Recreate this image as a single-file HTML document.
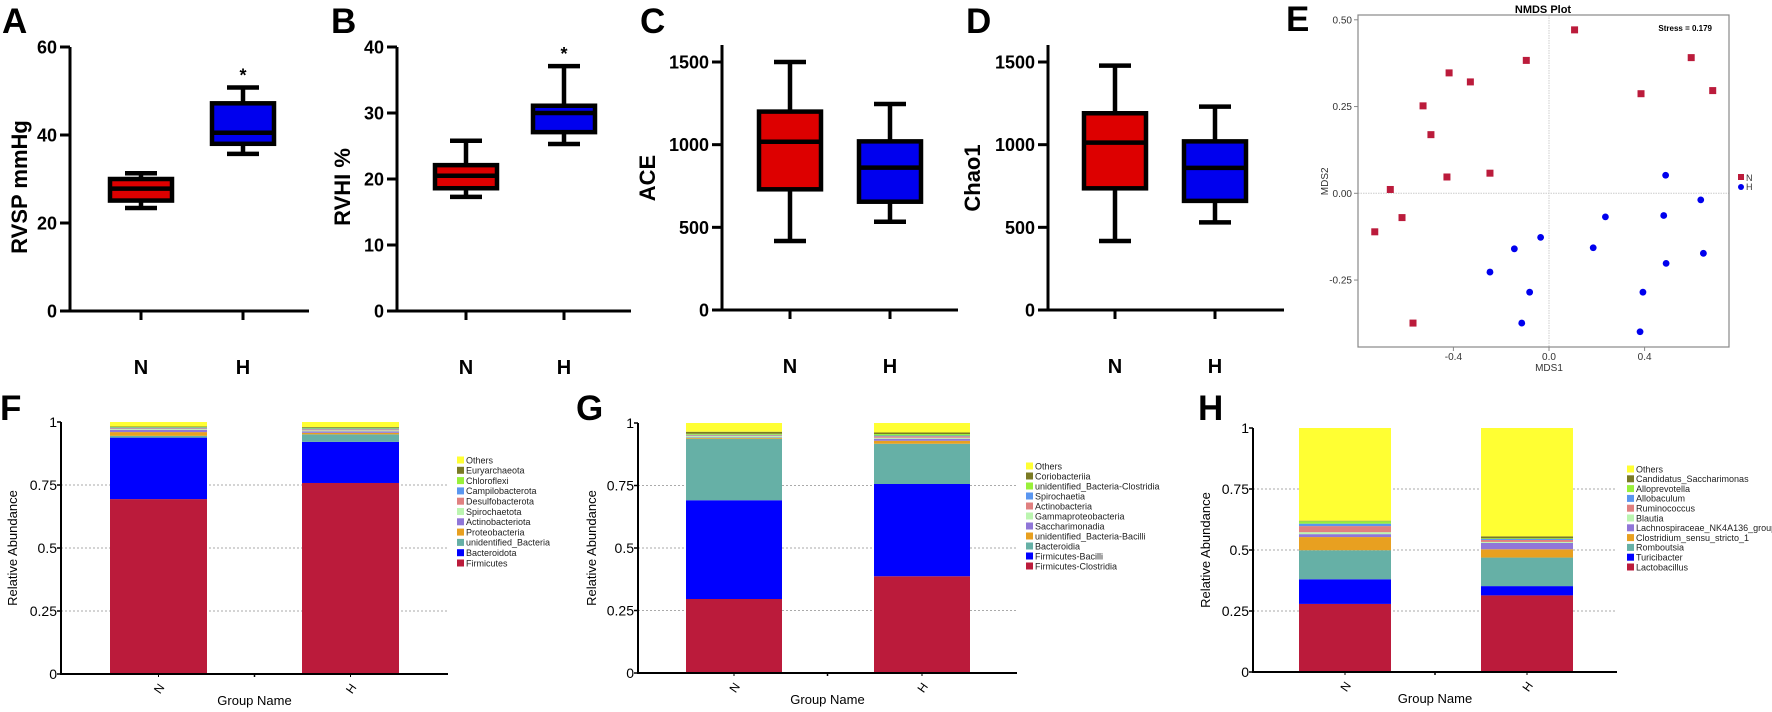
<!DOCTYPE html>
<html><head><meta charset="utf-8"><style>
html,body{margin:0;padding:0;background:#fff;width:1772px;height:712px;overflow:hidden}
svg{display:block;font-family:"Liberation Sans",Arial,sans-serif}
</style></head><body>
<svg id="fig" width="1772" height="712" viewBox="0 0 1772 712" xmlns="http://www.w3.org/2000/svg">
<g font-weight="bold" font-size="35" fill="#000">
<text x="2" y="33">A</text>
<text x="331" y="33">B</text>
<text x="640" y="33">C</text>
<text x="966" y="33">D</text>
<text x="1286" y="31">E</text>
<text x="0" y="420">F</text>
<text x="576" y="420">G</text>
<text x="1198" y="420">H</text>
</g>
</svg>
<script>
// ---------- Box plot data: [min, q1, median, q3, max] ----------
const boxGroups = ["N", "H"];
const rvspN = [23.4, 25.1, 27.8, 30.0, 31.3];
const rvspH = [35.7, 38.0, 40.5, 47.2, 50.8];
const rvhiN = [17.3, 18.6, 20.5, 22.1, 25.8];
const rvhiH = [25.3, 27.1, 30.0, 31.1, 37.1];
const aceN = [417, 730, 1018, 1200, 1500];
const aceH = [534, 655, 861, 1020, 1246];
const chaoN = [417, 736, 1012, 1190, 1478];
const chaoH = [530, 660, 860, 1020, 1230];
const ticksRVSP = [0, 20, 40, 60];
const ticksRVHI = [0, 10, 20, 30, 40];
const ticksAlpha = [0, 500, 1000, 1500];

// ---------- NMDS data ----------
const nmdsNx = [0.107,-0.095,-0.418,-0.329,-0.527,-0.494,-0.427,-0.247,-0.664,-0.615,-0.729,0.595,0.385,0.685,-0.569];
const nmdsNy = [0.471,0.383,0.347,0.321,0.252,0.169,0.047,0.058,0.011,-0.070,-0.111,0.391,0.287,0.296,-0.374];
const nmdsHx = [0.488,0.635,0.236,0.480,-0.035,-0.145,0.185,0.646,0.490,-0.247,-0.081,0.393,-0.114,0.381];
const nmdsHy = [0.052,-0.019,-0.068,-0.064,-0.127,-0.160,-0.157,-0.173,-0.202,-0.227,-0.285,-0.285,-0.374,-0.399];
const nmdsYTicks = [0.5, 0.25, 0, -0.25];
const nmdsYTickLabels = ["0.50", "0.25", "0.00", "-0.25"];
const nmdsXTicks = [-0.4, 0, 0.4];
const nmdsXTickLabels = ["-0.4", "0.0", "0.4"];

// ---------- Stacked bar data (bottom -> top) ----------
const stackGroups = ["N", "H"];
const phylumNames = ["Firmicutes","Bacteroidota","unidentified_Bacteria","Proteobacteria","Actinobacteriota","Spirochaetota","Desulfobacterota","Campilobacterota","Chloroflexi","Euryarchaeota","Others"];
const phylumN = [0.694,0.244,0.007,0.015,0.009,0.003,0.003,0.003,0.002,0.002,0.018];
const phylumH = [0.758,0.163,0.030,0.006,0.006,0.004,0.004,0.003,0.003,0.003,0.020];
const classNames = ["Firmicutes-Clostridia","Firmicutes-Bacilli","Bacteroidia","unidentified_Bacteria-Bacilli","Saccharimonadia","Gammaproteobacteria","Actinobacteria","Spirochaetia","unidentified_Bacteria-Clostridia","Coriobacteriia","Others"];
const classN = [0.296,0.395,0.246,0.003,0.002,0.006,0.003,0.002,0.004,0.008,0.035];
const classH = [0.387,0.369,0.161,0.012,0.008,0.004,0.006,0.003,0.006,0.006,0.038];
const genusNames = ["Lactobacillus","Turicibacter","Romboutsia","Clostridium_sensu_stricto_1","Lachnospiraceae_NK4A136_group","Blautia","Ruminococcus","Allobaculum","Alloprevotella","Candidatus_Saccharimonas","Others"];
const genusN = [0.279,0.101,0.119,0.054,0.012,0.008,0.025,0.010,0.010,0.002,0.380];
const genusH = [0.314,0.038,0.117,0.034,0.026,0.004,0.008,0.004,0.003,0.008,0.444];
const stackTicks = [0, 0.25, 0.5, 0.75, 1];
const stackTickLabels = ["0", "0.25", "0.5", "0.75", "1"];

const palette = ["#bb1b3b","#0000ff","#66b0a6","#e8a020","#9076d8","#bbf5b0","#e08080","#5a96f0","#99f03a","#7a7a24","#ffff33"];

const svg = document.getElementById('fig');
const NS = "http://www.w3.org/2000/svg";
function mk(tag, attrs, parent) {
  const e = document.createElementNS(NS, tag);
  for (const k in attrs) e.setAttribute(k, attrs[k]);
  (parent || svg).appendChild(e);
  return e;
}
function txt(s, attrs, parent) { const t = mk('text', attrs, parent); t.textContent = s; return t; }

// ---------- Box plots ----------
function boxPanel(cfg) {
  const g = mk('g', {});
  
  
  const y = v => cfg.y0 - (v / cfg.vmax) * (cfg.y0 - cfg.yTopVal);
  const ax = mk('path', {d: `M${cfg.axisX} ${cfg.axisTop} V${cfg.y0} H${cfg.xEnd}`, stroke: '#000', 'stroke-width': 3, fill: 'none'}, g);
  
  
  cfg.ticks.forEach(t => {
    mk('line', {x1: cfg.axisX - 10, x2: cfg.axisX, y1: y(t), y2: y(t), stroke: '#000', 'stroke-width': 3}, g);
    const tl = txt(String(t), {x: cfg.axisX - 13, y: y(t) + 6.5, 'text-anchor': 'end', 'font-size': 18, 'font-weight': 'bold'}, g);
    
    
  });
  const yt = txt(cfg.ytitle, {x: 0, y: 0, transform: `translate(${cfg.titleX},${cfg.titleY}) rotate(-90)`, 'text-anchor': 'middle', 'font-size': 22, 'font-weight': 'bold'}, g);
  
  
  const datas = [cfg.dN, cfg.dH];
  const fills = ['#dd0000', '#0000ee'];
  boxGroups.forEach((grp, i) => {
    const cx = cfg.xs[i];
    const d = datas[i];
    mk('line', {x1: cx, x2: cx, y1: cfg.y0 + 9, y2: cfg.y0, stroke: '#000', 'stroke-width': 3}, g);
    const lab = txt(grp, {x: cx, y: cfg.y0 + 63, 'text-anchor': 'middle', 'font-size': 20, 'font-weight': 'bold'}, g);
    
    
    const bg = mk('g', {}, g);
    
    
    mk('line', {x1: cx, x2: cx, y1: y(d[0]), y2: y(d[4]), stroke: '#000', 'stroke-width': 4.5}, bg);
    mk('line', {x1: cx - 16, x2: cx + 16, y1: y(d[0]), y2: y(d[0]), stroke: '#000', 'stroke-width': 4.5}, bg);
    mk('line', {x1: cx - 16, x2: cx + 16, y1: y(d[4]), y2: y(d[4]), stroke: '#000', 'stroke-width': 4.5}, bg);
    mk('rect', {x: cx - 31, y: y(d[3]), width: 62, height: y(d[1]) - y(d[3]), fill: fills[i], stroke: '#000', 'stroke-width': 4.5}, bg);
    mk('line', {x1: cx - 31, x2: cx + 31, y1: y(d[2]), y2: y(d[2]), stroke: '#000', 'stroke-width': 4.5}, bg);
    if (cfg.star && i === 1) {
      const s = txt('*', {x: cx, y: y(d[4]) - 6, 'text-anchor': 'middle', 'font-size': 18, 'font-weight': 'bold'}, g);
      
      
    }
  });
}
boxPanel({name:'rvsp-boxplot', axisX:70, axisTop:47, y0:311, yTopVal:47, vmax:60, xEnd:309, xs:[141,243], ticks:ticksRVSP, dN:rvspN, dH:rvspH, ytitle:'RVSP mmHg', titleX:27, titleY:187, star:true});
boxPanel({name:'rvhi-boxplot', axisX:397, axisTop:47, y0:311, yTopVal:47, vmax:40, xEnd:631, xs:[466,564], ticks:ticksRVHI, dN:rvhiN, dH:rvhiH, ytitle:'RVHI %', titleX:350, titleY:187, star:true});
boxPanel({name:'ace-boxplot', axisX:722, axisTop:45, y0:310, yTopVal:62, vmax:1500, xEnd:958, xs:[790,890], ticks:ticksAlpha, dN:aceN, dH:aceH, ytitle:'ACE', titleX:655, titleY:178, star:false});
boxPanel({name:'chao1-boxplot', axisX:1048, axisTop:45, y0:310, yTopVal:62, vmax:1500, xEnd:1284, xs:[1115,1215], ticks:ticksAlpha, dN:chaoN, dH:chaoH, ytitle:'Chao1', titleX:980, titleY:178, star:false});

// ---------- NMDS ----------
(function(){
  const g = mk('g', {});
  
  
  const L = 1358, R = 1729, T = 15, B = 347;
  const sx = v => 1549 + v * 239;
  const sy = v => 193.3 - v * 347;
  mk('line', {x1: sx(0), x2: sx(0), y1: T, y2: B, stroke: '#ccc', 'stroke-width': 1, 'stroke-dasharray': '1.5,1'}, g);
  mk('line', {x1: L, x2: R, y1: sy(0), y2: sy(0), stroke: '#ccc', 'stroke-width': 1, 'stroke-dasharray': '1.5,1'}, g);
  const fr = mk('rect', {x: L, y: T, width: R - L, height: B - T, fill: 'none', stroke: '#888', 'stroke-width': 1.2}, g);
  
  
  nmdsYTicks.forEach((t, i) => {
    mk('line', {x1: L - 4, x2: L, y1: sy(t), y2: sy(t), stroke: '#888'}, g);
    const tl = txt(nmdsYTickLabels[i], {x: L - 6, y: sy(t) + 3.5, 'text-anchor': 'end', 'font-size': 10, fill: '#333'}, g);
    
    
  });
  nmdsXTicks.forEach((t, i) => {
    mk('line', {x1: sx(t), x2: sx(t), y1: B, y2: B + 4, stroke: '#888'}, g);
    const tl = txt(nmdsXTickLabels[i], {x: sx(t), y: B + 13, 'text-anchor': 'middle', 'font-size': 10, fill: '#333'}, g);
    
    
  });
  const xt = txt('MDS1', {x: sx(0), y: B + 24, 'text-anchor': 'middle', 'font-size': 10, fill: '#333'}, g);
  
  
  const ytt = txt('MDS2', {x: 0, y: 0, transform: `translate(1328,${sy(0) - 12}) rotate(-90)`, 'text-anchor': 'middle', 'font-size': 10, fill: '#333'}, g);
  
  
  const tt = txt('NMDS Plot', {x: 1543, y: 13, 'text-anchor': 'middle', 'font-size': 11, 'font-weight': 'bold'}, g);
  
  
  const st = txt('Stress = 0.179', {x: 1712, y: 31, 'text-anchor': 'end', 'font-size': 8, 'font-weight': 'bold'}, g);
  
  
  nmdsNx.forEach((x, i) => {
    const p = mk('rect', {x: sx(x) - 3.5, y: sy(nmdsNy[i]) - 3.5, width: 7, height: 7, fill: '#bb1b3b'}, g);
    
    
  });
  nmdsHx.forEach((x, i) => {
    const p = mk('circle', {cx: sx(x), cy: sy(nmdsHy[i]), r: 3.4, fill: '#0000ee'}, g);
    
    
  });
  const lg = mk('g', {}, g);
  
  
  mk('rect', {x: 1738, y: 174, width: 6, height: 6, fill: '#bb1b3b'}, lg);
  txt('N', {x: 1746, y: 181, 'font-size': 9, fill: '#333'}, lg);
  mk('circle', {cx: 1741, cy: 187, r: 3, fill: '#0000ee'}, lg);
  txt('H', {x: 1746, y: 190, 'font-size': 9, fill: '#333'}, lg);
})();

// ---------- Stacked bars ----------
function stackPanel(cfg) {
  const g = mk('g', {});
  
  
  const y = v => cfg.y0 - v * (cfg.y0 - cfg.y1);
  stackTicks.forEach((t, i) => {
    if (t > 0 && t < 1) mk('line', {x1: cfg.axisX, x2: cfg.xEnd, y1: y(t), y2: y(t), stroke: '#aaa', 'stroke-width': 1, 'stroke-dasharray': '2,2'}, g);
  });
  const datas = [cfg.dN, cfg.dH];
  stackGroups.forEach((grp, gi) => {
    const bx = cfg.bars[gi];
    const bg = mk('g', {}, g);
    
    
    let cum = 0;
    datas[gi].forEach((v, si) => {
      const r = mk('rect', {x: bx, y: y(cum + v), width: cfg.barW, height: y(cum) - y(cum + v), fill: palette[si]}, bg);
      
      
      cum += v;
    });
    const cx = bx + cfg.barW / 2;
    mk('line', {x1: cx, x2: cx, y1: cfg.y0, y2: cfg.y0 + 3, stroke: '#000'}, g);
    const xl = txt(grp, {x: 0, y: 0, transform: `translate(${cx + 4},${cfg.y0 + 17}) rotate(-55)`, 'text-anchor': 'middle', 'font-size': 12}, g);
    
    
  });
  const ax = mk('path', {d: `M${cfg.axisX} ${cfg.y1} V${cfg.y0} H${cfg.xEnd}`, stroke: '#000', 'stroke-width': 2, fill: 'none'}, g);
  
  
  mk('line', {x1: (cfg.axisX + cfg.xEnd) / 2, x2: (cfg.axisX + cfg.xEnd) / 2, y1: cfg.y0, y2: cfg.y0 + 3, stroke: '#000', 'stroke-width': 1.5}, g);
  stackTicks.forEach((t, i) => {
    mk('line', {x1: cfg.axisX - 4, x2: cfg.axisX, y1: y(t), y2: y(t), stroke: '#000', 'stroke-width': 1.5}, g);
    const tl = txt(stackTickLabels[i], {x: cfg.axisX - 4, y: y(t) + 5, 'text-anchor': 'end', 'font-size': 14}, g);
    
    
  });
  const yt = txt('Relative Abundance', {x: 0, y: 0, transform: `translate(${cfg.titleX},${(cfg.y0 + cfg.y1) / 2}) rotate(-90)`, 'text-anchor': 'middle', 'font-size': 13}, g);
  
  
  const xt = txt('Group Name', {x: (cfg.axisX + cfg.xEnd) / 2, y: cfg.y0 + 31, 'text-anchor': 'middle', 'font-size': 13}, g);
  
  
  const lg = mk('g', {}, g);
  
  
  for (let k = 0; k < cfg.names.length; k++) {
    const si = cfg.names.length - 1 - k;
    const ly = cfg.legY + k * cfg.legStep;
    const it = mk('g', {}, lg);
    
    
    mk('rect', {x: cfg.legX, y: ly - 3.5, width: 7, height: 7, fill: palette[si]}, it);
    txt(cfg.names[si], {x: cfg.legX + 9, y: ly + 3.3, 'font-size': 9, fill: '#222'}, it);
  }
}
stackPanel({name:'phylum-stacked-bar', axisX:61, y1:422, y0:674, xEnd:448, bars:[110,302], barW:97, dN:phylumN, dH:phylumH, names:phylumNames, legX:457, legY:460, legStep:10.3, titleX:17});
stackPanel({name:'class-stacked-bar', axisX:638, y1:423, y0:673, xEnd:1017, bars:[686,874], barW:96, dN:classN, dH:classH, names:classNames, legX:1026, legY:466, legStep:10, titleX:596});
stackPanel({name:'genus-stacked-bar', axisX:1253, y1:428, y0:672, xEnd:1617, bars:[1299,1481], barW:92, dN:genusN, dH:genusH, names:genusNames, legX:1627, legY:469, legStep:9.8, titleX:1210});
</script>
</body></html>
